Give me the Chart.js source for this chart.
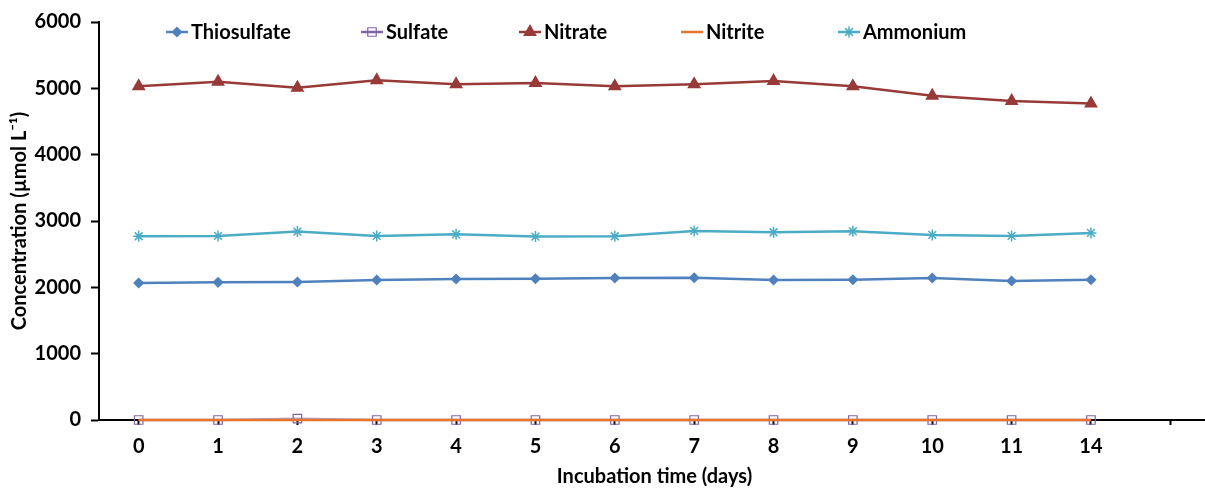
<!DOCTYPE html>
<html>
<head>
<meta charset="utf-8">
<script src="https://cdn.jsdelivr.net/npm/chart.js@4/dist/chart.umd.min.js"></script>
<style>
html,body{margin:0;padding:0;background:#fff;overflow:hidden;}
#wrap{position:relative;width:1218px;height:489px;}
</style>
</head>
<body>
<div id="wrap"><canvas id="c"></canvas></div>
<script>
const categories = ['0','1','2','3','4','5','6','7','8','9','10','11','14',''];
const thiosulfate = [2065,2075,2080,2110,2125,2130,2140,2145,2110,2115,2140,2095,2115];
const sulfate     = [0,0,20,0,0,0,0,0,0,0,0,0,0];
const nitrate     = [5030,5100,5010,5120,5060,5080,5030,5060,5110,5030,4890,4810,4770];
const nitrite     = [0,0,0,0,0,0,0,0,0,0,0,0,0];
const ammonium    = [2770,2775,2840,2775,2800,2765,2770,2850,2830,2845,2790,2775,2820];
const yTicks      = [0,1000,2000,3000,4000,5000,6000];

const FONT = 'Lato, "Open Sans", sans-serif';
const FS = 20;

const series = [
  {label:'Thiosulfate', data:thiosulfate, color:'#4F81BD', style:'rectRot', r:4.5, fill:true, order:1},
  {label:'Sulfate', data:sulfate, color:'#8064A2', style:'rect', r:6, fill:false, order:5, lineColor:'#B3A2C7'},
  {label:'Nitrate', data:nitrate, color:'#983A38', style:'triangle', r:6.5, fill:true, order:2},
  {label:'Nitrite', data:nitrite, color:'#E8742A', style:false, r:0, fill:true, order:4},
  {label:'Ammonium', data:ammonium, color:'#4BACC6', style:'star', r:5.5, fill:false, order:3}
];

const legendX = [166, 361, 519, 681, 838];

const legendPlugin = {
  id:'customLegend',
  afterDraw(chart){
    const ctx = chart.ctx;
    ctx.save();
    ctx.font = 'bold ' + FS + 'px ' + FONT;
    ctx.textBaseline = 'middle';
    ctx.textAlign = 'left';
    const y = 32;
    series.forEach((s,i)=>{
      const x0 = legendX[i];
      ctx.strokeStyle = s.color;
      ctx.lineWidth = 2.5;
      ctx.beginPath(); ctx.moveTo(x0,y); ctx.lineTo(x0+22,y); ctx.stroke();
      if (s.style){
        ctx.fillStyle = s.fill ? s.color : 'rgba(0,0,0,0)';
        ctx.strokeStyle = s.color;
        ctx.lineWidth = s.style==='rect' ? 1.2 : 1.5;
        Chart.helpers.drawPoint(ctx,{pointStyle:s.style,radius:s.r,borderWidth:ctx.lineWidth,rotation:0},x0+11,y);
      }
      ctx.fillStyle = '#000';
      ctx.fillText(s.label, x0+25, y+1);
    });
    ctx.restore();
  }
};

new Chart(document.getElementById('c'), {
  type:'line',
  data:{
    labels:categories,
    datasets: series.map(s=>({
      label:s.label,
      data:s.data,
      borderColor:s.lineColor || s.color,
      backgroundColor:s.fill ? s.color : '#ffffff',
      pointBackgroundColor:s.fill ? s.color : 'rgba(255,255,255,0)',
      pointBorderColor:s.color,
      pointStyle:s.style,
      pointRadius:s.r,
      pointBorderWidth: s.style==='rect' ? 1.2 : 1.5,
      borderWidth:2.5,
      tension:0,
      fill:false,
      clip:false,
      order:s.order
    }))
  },
  options:{
    responsive:true,
    maintainAspectRatio:false,
    animation:false,
    layout:{padding:{top:21,left:0,right:0,bottom:0}},
    plugins:{legend:{display:false},tooltip:{enabled:false}},
    scales:{
      x:{
        offset:true,
        grid:{display:true,drawOnChartArea:false,drawTicks:true,tickLength:5,tickColor:'#000',tickWidth:2,offset:false},
        border:{display:true,color:'#000',width:2},
        ticks:{color:'#000',font:{family:FONT,size:FS,weight:'bold'},padding:10,maxRotation:0,autoSkip:false},
        title:{display:true,text:'Incubation time (days)',color:'#000',font:{family:FONT,size:FS,weight:'bold'},padding:{top:0,bottom:0}},
        afterFit(scale){scale.height = 69;}
      },
      y:{
        min:0,max:6000,
        afterBuildTicks(scale){scale.ticks = yTicks.map(v=>({value:v}));},
        grid:{display:true,drawOnChartArea:false,drawTicks:true,tickLength:8,tickColor:'#000',tickWidth:2},
        border:{display:true,color:'#000',width:2},
        ticks:{color:'#000',font:{family:FONT,size:FS,weight:'bold'},padding:10,callback:(v)=>String(v)},
        title:{display:true,text:'Concentration (µmol L⁻¹)',color:'#000',font:{family:FONT,size:FS,weight:'bold'},padding:{top:8,bottom:0}},
        afterFit(scale){scale.width = 99;}
      }
    }
  },
  plugins:[legendPlugin]
});
</script>
</body>
</html>
